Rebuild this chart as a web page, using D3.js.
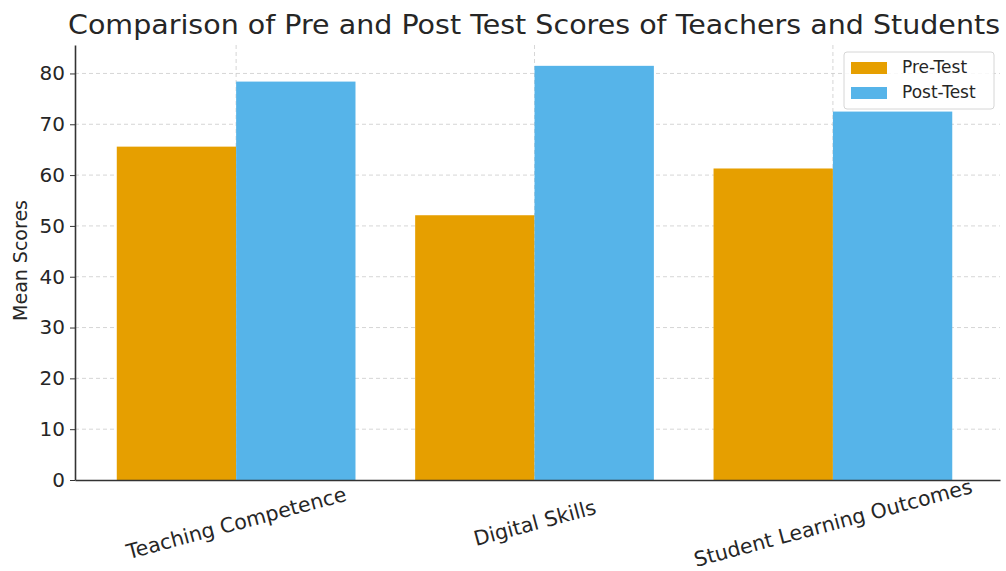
<!DOCTYPE html>
<html>
<head>
<meta charset="utf-8">
<script src="https://cdn.jsdelivr.net/npm/d3@7"></script>
<style>
  body { margin: 0; background: #fff; }
  text { font-family: "DejaVu Sans", sans-serif; fill: #262626; }
</style>
</head>
<body>
<div id="chart"></div>
<script>
var categories = ["Teaching Competence", "Digital Skills", "Student Learning Outcomes"];
var preTest = [65.6, 52.1, 61.3];
var postTest = [78.4, 81.5, 72.5];
var seriesNames = ["Pre-Test", "Post-Test"];
var seriesColors = ["#E69F00", "#56B4E9"];
var yTicks = [0, 10, 20, 30, 40, 50, 60, 70, 80];

var W = 1006, H = 571;
var margin = {top: 45, right: 6, bottom: 91, left: 75},
    width = W - margin.left - margin.right,
    height = H - margin.top - margin.bottom;

var svg = d3.select("#chart").append("svg")
    .attr("width", W)
    .attr("height", H)
  .append("g")
    .attr("transform", "translate(" + margin.left + "," + margin.top + ")");

// numeric x like matplotlib: categories at 0,1,2
var x = d3.scaleLinear()
    .domain([-0.54, 2.56])
    .range([0, width]);

var y = d3.scaleLinear()
    .domain([0, 85.6])
    .range([height, 0]);

var barW = 0.4;

// grid
svg.append("g").selectAll("line.hgrid")
    .data(yTicks.slice(1))
  .enter().append("line")
    .attr("x1", 0).attr("x2", width)
    .attr("y1", function(d) { return y(d); })
    .attr("y2", function(d) { return y(d); })
    .style("stroke", "#cccccc")
    .style("stroke-width", 0.8)
    .style("stroke-dasharray", "4,3");

svg.append("g").selectAll("line.vgrid")
    .data(categories)
  .enter().append("line")
    .attr("x1", function(d, i) { return x(i); })
    .attr("x2", function(d, i) { return x(i); })
    .attr("y1", 0).attr("y2", height)
    .style("stroke", "#cccccc")
    .style("stroke-width", 0.8)
    .style("stroke-dasharray", "4,3");

// bars
var series = [preTest, postTest];
series.forEach(function(vals, s) {
  svg.selectAll(".bar" + s)
      .data(vals)
    .enter().append("rect")
      .attr("x", function(d, i) { return x(i + (s === 0 ? -barW : 0)); })
      .attr("width", x(barW) - x(0))
      .attr("y", function(d) { return y(d); })
      .attr("height", function(d) { return height - y(d); })
      .style("fill", seriesColors[s]);
});

// y axis
var yAxis = svg.append("g")
    .call(d3.axisLeft(y).tickValues(yTicks).tickSize(5).tickPadding(5).tickSizeOuter(0));
yAxis.select(".domain").attr("stroke", "#333").attr("stroke-width", 1.6);
yAxis.selectAll(".tick line").attr("stroke", "#333").attr("stroke-width", 1);
yAxis.selectAll(".tick text")
    .style("font-size", "20px")
    .style("font-family", "DejaVu Sans")
    .attr("fill", "#262626");

// x axis
var xAxis = svg.append("g")
    .attr("transform", "translate(0," + height + ")")
    .call(d3.axisBottom(x).tickValues([0, 1, 2]).tickSize(0).tickSizeOuter(0).tickFormat(function(d) { return categories[d]; }));
xAxis.select(".domain").attr("stroke", "#333").attr("stroke-width", 1.6);
xAxis.selectAll(".tick text")
    .style("font-size", "20.5px")
    .style("font-family", "DejaVu Sans")
    .attr("fill", "#262626")
    .attr("text-anchor", "middle")
    .attr("dy", null)
    .attr("y", 0)
    .attr("transform", "translate(0,44) rotate(-15)")
    .attr("dominant-baseline", "middle");

// y label
svg.append("text")
    .attr("transform", "translate(" + (21 - margin.left) + "," + (height / 2 - 2) + ") rotate(-90)")
    .attr("text-anchor", "middle")
    .attr("dominant-baseline", "middle")
    .style("font-size", "19px")
    .text("Mean Scores");

// title
svg.append("text")
    .attr("x", 534 - margin.left)
    .attr("y", 34 - margin.top)
    .attr("text-anchor", "middle")
    .attr("textLength", 932)
    .attr("lengthAdjust", "spacingAndGlyphs")
    .style("font-size", "27px")
    .text("Comparison of Pre and Post Test Scores of Teachers and Students");

// legend
var legend = svg.append("g")
    .attr("transform", "translate(" + (844 - margin.left) + "," + (52 - margin.top) + ")");
legend.append("rect")
    .attr("width", 150).attr("height", 57)
    .attr("rx", 3)
    .style("fill", "white").style("fill-opacity", 0.85)
    .style("stroke", "#d6d6d6");
seriesNames.forEach(function(name, i) {
  legend.append("rect")
      .attr("x", 7).attr("y", 10 + i * 25)
      .attr("width", 36).attr("height", 12)
      .style("fill", seriesColors[i]);
  legend.append("text")
      .attr("x", 58).attr("y", 16 + i * 25)
      .attr("dominant-baseline", "middle")
      .style("font-size", "17px")
      .text(name);
});
</script>
</body>
</html>
